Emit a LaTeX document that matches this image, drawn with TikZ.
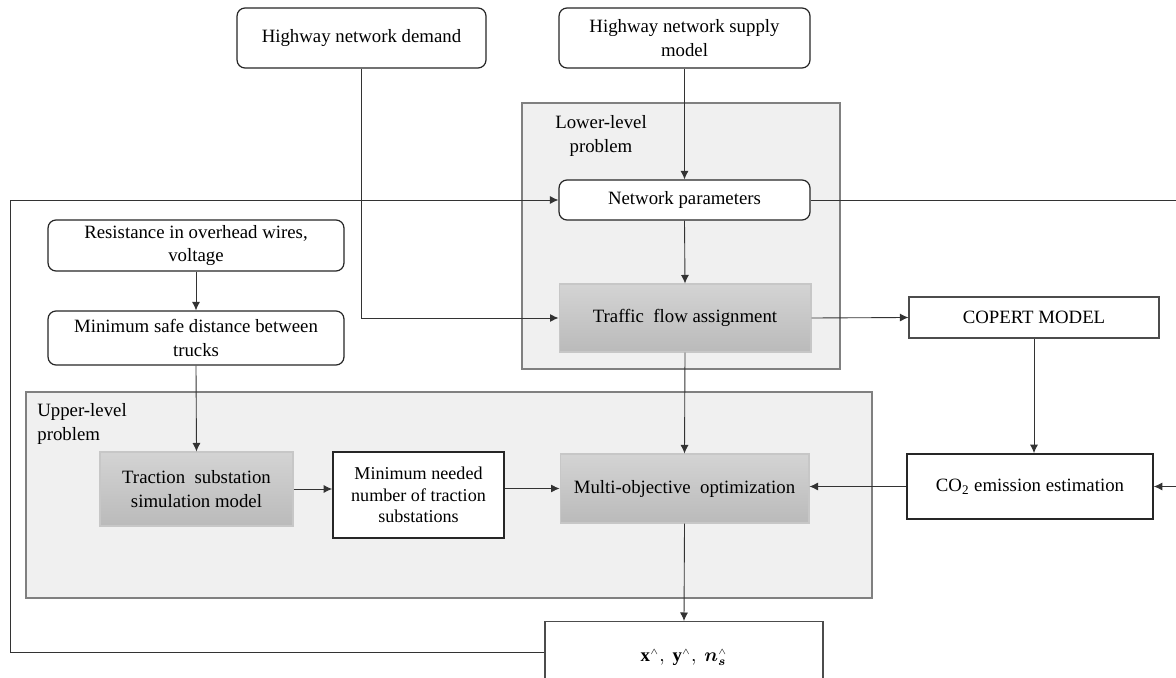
\documentclass[tikz,border=0pt]{standalone}
\usepackage{amsmath}
\usepackage{fontspec}
\setmainfont{Liberation Serif}
\usepackage{tikz}
\usetikzlibrary{arrows.meta}

\begin{document}
\begin{tikzpicture}[x=0.02cm,y=-0.02cm,
	txt/.style={font=\fontsize{10.7}{13.6}\selectfont, align=center, inner sep=0pt},
	rbox/.style={txt, draw=black!85, line width=0.7pt, rounded corners=0.16cm, fill=white},
	pbox/.style={txt, draw=black!70, line width=0.7pt, fill=white},
	gbox/.style={txt, draw=black!22, line width=0.6pt, top color=black!17, bottom color=black!27},
	region/.style={draw=black!50, line width=0.7pt, fill=black!6},
	arr/.style={-{Latex[length=1.7mm,width=1.6mm]}, draw=black!80, line width=0.5pt}]
	\useasboundingbox (0,0) rectangle (1176,678);
	%\draw[step=1cm ,color=gray] (0,0) grid (1176,678);
			\draw[region] (522,103) rectangle (840,369);
			\draw[region] (26,392) rectangle (872,598);
			\node[txt] (lowlab) at (601,136) {Lower-level\\problem};
			\node[txt, align=left, anchor=north west] (uplab) at (37,403) {Upper-level\\problem};
			\node[rbox, minimum width=4.98cm, minimum height=1.2cm] (demand) at (361.5,38) {Highway network demand};
			\node[rbox, minimum width=5.02cm, minimum height=1.2cm] (supply) at (684.5,38) {Highway network supply\\model};
			\node[rbox, minimum width=5.02cm, minimum height=0.8cm] (netpar) at (684.5,200) {Network parameters};
			\node[gbox, minimum width=5.04cm, minimum height=1.36cm] (traffic) at (685,318) {Traffic\ \ flow assignment};
			\node[pbox, minimum width=5cm, minimum height=0.82cm] (copert) at (1034,317.5) {COPERT MODEL};
			\node[pbox, draw=black!85, line width=1pt, minimum width=4.92cm, minimum height=1.3cm] (co2) at (1030,486.5) {CO\textsubscript{2} emission estimation};
			\node[rbox, minimum width=5.92cm, minimum height=1.02cm] (resist) at (196,245.5) {Resistance in overhead wires,\\voltage};
			\node[rbox, minimum width=5.92cm, minimum height=1.08cm] (minsafe) at (196,338) {Minimum safe distance between\\trucks};
			\node[gbox, minimum width=3.86cm, minimum height=1.48cm] (traction) at (196.5,489) {Traction\ \ substation\\simulation model};
			\node[pbox, draw=black!85, line width=1pt, font=\fontsize{10.3}{12.2}\selectfont, minimum width=3.42cm, minimum height=1.72cm] (minneed) at (418.5,495) {Minimum needed\\number of traction\\substations};
			\node[gbox, minimum width=4.98cm, minimum height=1.38cm] (multi) at (684.5,488.5) {Multi-objective\ \ optimization};
			\node[pbox, minimum width=5.56cm, minimum height=1.44cm, anchor=north] (output) at (684,621) {$\mathbf{x}^{\scriptscriptstyle\wedge},\ \mathbf{y}^{\scriptscriptstyle\wedge},\ \boldsymbol{n}_{\boldsymbol{s}}^{\scriptscriptstyle\wedge}$};
			\coordinate (fb) at (10,652);
			\coordinate (re) at (1190,200);
			\draw[arr] (supply.south) -- (netpar.north);
			\draw[arr] (netpar.south) -- (traffic.north);
			\draw[arr] (demand.south) |- (traffic.west);
			\draw[arr] (traffic.east) -- (copert.west);
			\draw[arr] (copert.south) -- (copert.south |- co2.north);
			\draw[arr] (co2.west) -- (co2.west -| multi.east);
			\draw[arr] (traffic.south) -- (multi.north);
			\draw[arr] (multi.south) -- (output.north);
			\draw[arr] (output.west |- fb) -- (fb) |- (netpar.west);
			\draw[arr] (netpar.east) -- (re) |- (co2.east);
			\draw[arr] (resist.south) -- (minsafe.north);
			\draw[arr] (minsafe.south) -- (traction.north);
			\draw[arr] (traction.east) -- (traction.east -| minneed.west);
			\draw[arr] (minneed.east |- multi.west) -- (multi.west);
	\end{tikzpicture}
\end{document}
